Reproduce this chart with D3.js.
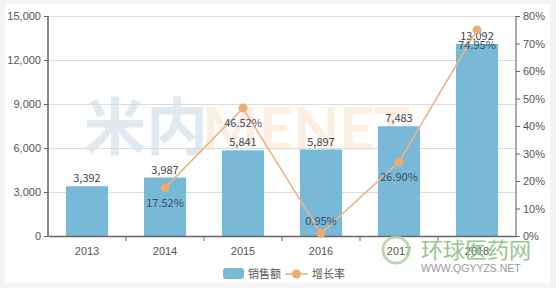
<!DOCTYPE html>
<html><head><meta charset="utf-8">
<script src="https://cdn.jsdelivr.net/npm/d3@7"></script>
<style>
html,body{margin:0;padding:0;background:#f4f4f4;}
svg{display:block;font-family:"Noto Sans CJK SC","Noto Sans",sans-serif;}
</style></head><body>
<svg id="c" width="556" height="288"></svg>
<script>
const years = ["2013","2014","2015","2016","2017","2018"];
const sales = [3392, 3987, 5841, 5897, 7483, 13092];
const growth = [null, 17.52, 46.52, 0.95, 26.90, 74.95];
const leftTicks = [0, 3000, 6000, 9000, 12000, 15000];
const rightTicks = [0, 10, 20, 30, 40, 50, 60, 70, 80];
const legendNames = ["销售额", "增长率"];

const svg = d3.select("#c");
svg.append("rect").attr("x",5).attr("y",4).attr("width",545).attr("height",279).attr("fill","#fff");

const m = {l:48, r:516, t:16, b:236};
const x = d3.scaleBand().domain(years).range([m.l, m.r]).paddingInner(0.46).paddingOuter(0.23);
const yL = d3.scaleLinear().domain([0,15000]).range([m.b, m.t]);
const yR = d3.scaleLinear().domain([0,80]).range([m.b, m.t]);

// watermark
const wm = svg.append("g").attr("font-weight","bold");
wm.append("text").attr("x",84).attr("y",150).attr("font-size",62).attr("fill","#e0e9f0").attr("font-family","Noto Sans CJK SC").text("米内");
wm.append("text").attr("x",202).attr("y",150).attr("fill","#fdeee2").attr("font-family","Lato, sans-serif").attr("font-size",60).text("MENET");

// grid
svg.append("g").selectAll("line").data(leftTicks).join("line")
  .attr("x1",m.l).attr("x2",m.r).attr("y1",d=>yL(d)+0.5).attr("y2",d=>yL(d)+0.5)
  .attr("stroke","#dcdcdc").attr("stroke-width",1);

// bars
svg.append("g").selectAll("rect").data(sales).join("rect")
  .attr("x",(d,i)=>x(years[i])).attr("width",x.bandwidth())
  .attr("y",d=>yL(d)).attr("height",d=>m.b-yL(d)).attr("fill","#78b9d7");

// axes
const fmt = d3.format(",");
const ax = svg.append("g").attr("transform",`translate(${m.l},0)`)
  .call(d3.axisLeft(yL).tickValues(leftTicks).tickFormat(fmt).tickSize(4).tickPadding(3));
const ar = svg.append("g").attr("transform",`translate(${m.r},0)`)
  .call(d3.axisRight(yR).tickValues(rightTicks).tickFormat(d=>d+"%").tickSize(4).tickPadding(3));
const xb = d3.scaleLinear().domain([0,6]).range([m.l,m.r]);
const axB = svg.append("g").attr("transform",`translate(0,${m.b})`)
  .call(d3.axisBottom(x).tickSize(0).tickPadding(11));
svg.append("g").selectAll("line").data(d3.range(1,6)).join("line")
  .attr("x1",d=>xb(d)).attr("x2",d=>xb(d)).attr("y1",m.b).attr("y2",m.b+5).attr("stroke","#666");
[ax,ar,axB].forEach(g=>{
  g.selectAll(".domain").attr("stroke","#888").attr("stroke-width",2);
  g.selectAll(".tick line").attr("stroke","#666");
  g.selectAll(".tick text").attr("fill","#555").attr("font-size",11);
});
ar.select(".domain").attr("stroke","#555").attr("stroke-width",1);
axB.select(".domain").attr("stroke","#666").attr("stroke-width",1.5);
ax.select(".domain").attr("d",`M0,${m.t}V${m.b}`);
ar.select(".domain").attr("d",`M0,${m.t}V${m.b}`);

// bar labels
svg.append("g").selectAll("text").data(sales).join("text")
  .attr("x",(d,i)=>x(years[i])+x.bandwidth()/2).attr("y",d=>yL(d)-4)
  .attr("text-anchor","middle").attr("font-size",11).attr("fill","#444").text(d=>fmt(d));

// line
const pts = growth.map((g,i)=>({g,i})).filter(d=>d.g!==null);
const cx = d=>x(years[d.i])+x.bandwidth()/2;
svg.append("path").datum(pts)
  .attr("d",d3.line().x(cx).y(d=>yR(d.g)))
  .attr("fill","none").attr("stroke","#ebb585").attr("stroke-width",1.6);
svg.append("g").selectAll("circle").data(pts).join("circle")
  .attr("cx",cx).attr("cy",d=>yR(d.g)).attr("r",4.5).attr("fill","#eaac73");
svg.append("g").selectAll("text").data(pts).join("text")
  .attr("x",cx).attr("y",d=>yR(d.g)+16>m.b? yR(d.g)-8 : yR(d.g)+19)
  .attr("text-anchor","middle").attr("font-size",11).attr("fill","#3d4f63").text(d=>d.g.toFixed(2)+"%");

// logo watermark
const lg = svg.append("g");
lg.append("circle").attr("cx",396).attr("cy",250).attr("r",13).attr("fill","none").attr("stroke","#a9cfa0").attr("stroke-width",3).attr("opacity",0.8);
lg.append("text").attr("x",421).attr("y",258).attr("font-size",22).attr("fill","#8cc083").attr("opacity",0.9).text("环球医药网");
lg.append("text").attr("x",421).attr("y",272).attr("font-size",10.5).attr("fill","#9a9a9a").attr("font-family","Liberation Sans, Arial").text("WWW.QGYYZS.NET");

// legend
const lgd = svg.append("g").attr("font-size",11).attr("fill","#555");
lgd.append("rect").attr("x",223).attr("y",268).attr("width",21).attr("height",11).attr("rx",3).attr("fill","#78b9d7");
lgd.append("text").attr("x",248).attr("y",278).attr("fill","#555").text(legendNames[0]);
lgd.append("line").attr("x1",285).attr("x2",308).attr("y1",274).attr("y2",274).attr("stroke","#ebb585").attr("stroke-width",1.6);
lgd.append("circle").attr("cx",296.5).attr("cy",274).attr("r",4.5).attr("fill","#eaac73");
lgd.append("text").attr("x",312).attr("y",278).attr("fill","#555").text(legendNames[1]);
</script></body></html>
